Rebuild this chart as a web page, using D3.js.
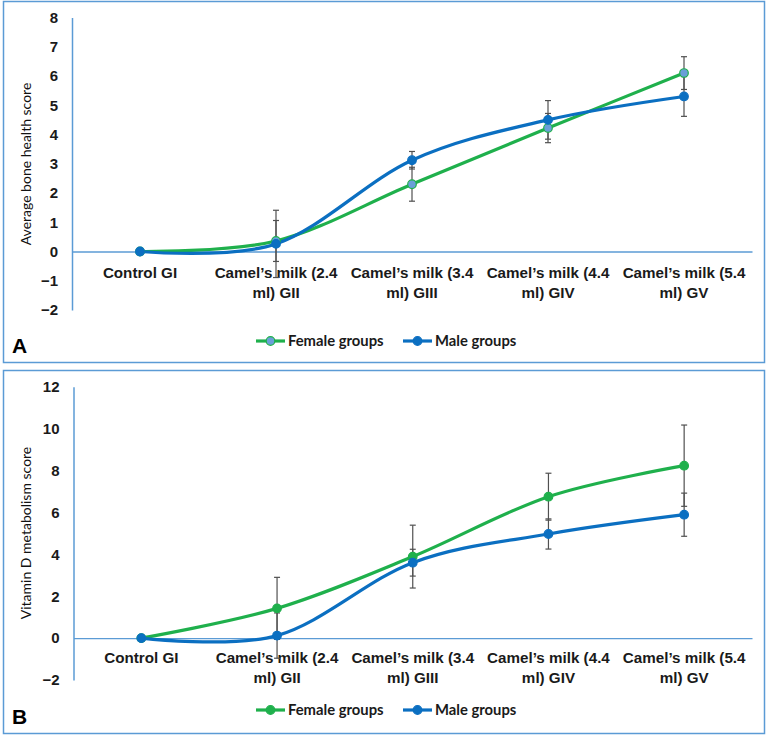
<!DOCTYPE html>
<html>
<head>
<meta charset="utf-8">
<script src="https://cdn.jsdelivr.net/npm/d3@7"></script>
<style>
  body { margin: 0; background: #fff; }
  svg { display: block; font-family: Lato, "Open Sans", sans-serif; }
</style>
</head>
<body>
<div id="chart"></div>
<script>
// categorias del eje x (dos lineas por etiqueta)
const categories = [
  ["Control GI"],
  ["Camel’s milk (2.4", "ml) GII"],
  ["Camel’s milk (3.4", "ml) GIII"],
  ["Camel’s milk (4.4", "ml) GIV"],
  ["Camel’s milk (5.4", "ml) GV"]
];
const seriesNames = ["Female groups", "Male groups"];

// panel A: bone health
const boneFemale = [0, 0.36, 2.3, 4.22, 6.1];
const boneFemaleErr = [0, 0.7, 0.58, 0.5, 0.56];
const boneMale = [0, 0.26, 3.12, 4.5, 5.3];
const boneMaleErr = [0, 1.15, 0.3, 0.66, 0.68];
const boneTicks = [-2, -1, 0, 1, 2, 3, 4, 5, 6, 7, 8];

// panel B: vitamin D
const vitFemale = [0, 1.42, 3.89, 6.75, 8.23];
const vitFemaleErr = [0, 1.48, 1.5, 1.12, 1.94];
const vitMale = [0, 0.12, 3.6, 4.97, 5.89];
const vitMaleErr = [0, 1.08, 0.64, 0.72, 1.03];
const vitTicks = [-2, 0, 2, 4, 6, 8, 10, 12];

const width = 767;
const height = 735;
const green = "#1fb04c";
const blue = "#0b6fc1";
const axisBlue = "#5b9bd5";

const svg = d3
  .select("#chart")
  .append("svg")
  .attr("width", width)
  .attr("height", height);

function drawPanel(cfg) {
  const g = svg.append("g");

  // marco del panel
  g.append("rect")
    .attr("x", 3.5)
    .attr("y", cfg.top + 0.5)
    .attr("width", 761)
    .attr("height", cfg.bottom - cfg.top)
    .attr("fill", "none")
    .attr("stroke", axisBlue)
    .attr("stroke-width", 1.5);

  const x = d3
    .scaleBand()
    .domain(categories.map((d) => d.join(" ")))
    .range([cfg.axisX, 752]);

  const y = d3
    .scaleLinear()
    .domain([cfg.ticks[0], cfg.ticks[cfg.ticks.length - 1]])
    .range(cfg.yRange);

  // eje y
  const yAxis = g
    .append("g")
    .attr("transform", `translate(${cfg.axisX},0)`)
    .call(d3.axisLeft(y).tickValues(cfg.ticks).tickSize(0).tickPadding(cfg.tickPad));
  yAxis.select(".domain").attr("stroke", axisBlue).attr("stroke-width", 1.5);
  yAxis
    .selectAll("text")
    .attr("font-size", 15)
    .attr("font-weight", "bold")
    .attr("fill", "#1a1a1a");

  // eje x en cero
  const xAxis = g
    .append("g")
    .attr("transform", `translate(0,${y(0)})`)
    .call(d3.axisBottom(x).tickSize(0));
  xAxis.select(".domain").attr("stroke", axisBlue).attr("stroke-width", 1.3);
  xAxis.selectAll(".tick text").remove();
  xAxis
    .selectAll(".tick")
    .append("text")
    .attr("fill", "#1a1a1a")
    .attr("font-size", 15.2)
    .attr("font-weight", "bold")
    .attr("text-anchor", "middle")
    .selectAll("tspan")
    .data((d) => categories.find((c) => c.join(" ") === d))
    .join("tspan")
    .attr("x", 0)
    .attr("y", (d, i) => cfg.labelOffset + i * 20)
    .text((d) => d);

  // titulo eje y
  g.append("text")
    .attr("transform", `translate(${cfg.titleX},${cfg.titleY}) rotate(-90)`)
    .attr("text-anchor", "middle")
    .attr("font-size", 14)
    .attr("fill", "#111")
    .text(cfg.title);

  const series = [
    { name: seriesNames[0], values: cfg.female, err: cfg.femaleErr, color: green, fill: cfg.femaleFill },
    { name: seriesNames[1], values: cfg.male, err: cfg.maleErr, color: blue, fill: blue }
  ];

  const cx = (i) => x(categories[i].join(" ")) + x.bandwidth() / 2;

  const line = d3
    .line()
    .x((d, i) => cx(i))
    .y((d) => y(d))
    .curve(d3.curveCardinal.tension(0));

  series.forEach((s) => {
    g.append("path")
      .datum(s.values)
      .attr("fill", "none")
      .attr("stroke", s.color)
      .attr("stroke-width", 3.2)
      .attr("d", line);
  });

  // barras de error
  series.forEach((s) => {
    const eb = g
      .selectAll(null)
      .data(s.values.map((v, i) => ({ v, e: s.err[i], i })).filter((d) => d.e > 0))
      .join("g")
      .attr("stroke", "#505050")
      .attr("stroke-width", 1.2);
    eb.append("line")
      .attr("x1", (d) => cx(d.i))
      .attr("x2", (d) => cx(d.i))
      .attr("y1", (d) => y(d.v + d.e))
      .attr("y2", (d) => y(d.v - d.e));
    [1, -1].forEach((sign) => {
      eb.append("line")
        .attr("x1", (d) => cx(d.i) - 3)
        .attr("x2", (d) => cx(d.i) + 3)
        .attr("y1", (d) => y(d.v + sign * d.e))
        .attr("y2", (d) => y(d.v + sign * d.e));
    });
  });

  // marcadores
  series.forEach((s) => {
    g.selectAll(null)
      .data(s.values)
      .join("circle")
      .attr("cx", (d, i) => cx(i))
      .attr("cy", (d) => y(d))
      .attr("r", 4.3)
      .attr("fill", s.fill)
      .attr("stroke", s.color)
      .attr("stroke-width", 1.2);
  });

  // leyenda
  const legend = g
    .append("g")
    .selectAll("g")
    .data(series)
    .join("g")
    .attr("transform", (d, i) => `translate(${[256, 403][i]},${cfg.legendY})`);
  legend
    .append("line")
    .attr("x1", 0)
    .attr("x2", 29)
    .attr("stroke", (d) => d.color)
    .attr("stroke-width", 3.2);
  legend
    .append("circle")
    .attr("cx", 14.5)
    .attr("r", 4.3)
    .attr("fill", (d) => d.fill)
    .attr("stroke", (d) => d.color)
    .attr("stroke-width", 1.2);
  legend
    .append("text")
    .attr("x", 32)
    .attr("dy", "0.35em")
    .attr("font-size", 14.8)
    .attr("font-weight", "bold")
    .attr("fill", "#1a1a1a")
    .text((d) => d.name);

  // letra del panel
  g.append("text")
    .attr("x", 12)
    .attr("y", cfg.letterY)
    .attr("font-size", 21)
    .attr("font-weight", "bold")
    .attr("font-family", "Liberation Sans, Arial, sans-serif")
    .attr("fill", "#000")
    .text(cfg.letter);
}

drawPanel({
  top: 1,
  bottom: 362,
  axisX: 72,
  yRange: [310, 17.5],
  ticks: boneTicks,
  tickPad: 14,
  labelOffset: 26,
  title: "Average bone health score",
  titleX: 31,
  titleY: 164,
  female: boneFemale,
  femaleErr: boneFemaleErr,
  femaleFill: "#6a9fd8",
  male: boneMale,
  maleErr: boneMaleErr,
  legendY: 341,
  letter: "A",
  letterY: 353
});

drawPanel({
  top: 370,
  bottom: 733,
  axisX: 73.5,
  yRange: [680, 386.7],
  ticks: vitTicks,
  tickPad: 14,
  labelOffset: 25,
  title: "Vitamin D metabolism score",
  titleX: 31,
  titleY: 533,
  female: vitFemale,
  femaleErr: vitFemaleErr,
  femaleFill: green,
  male: vitMale,
  maleErr: vitMaleErr,
  legendY: 710,
  letter: "B",
  letterY: 724
});
</script>
</body>
</html>
